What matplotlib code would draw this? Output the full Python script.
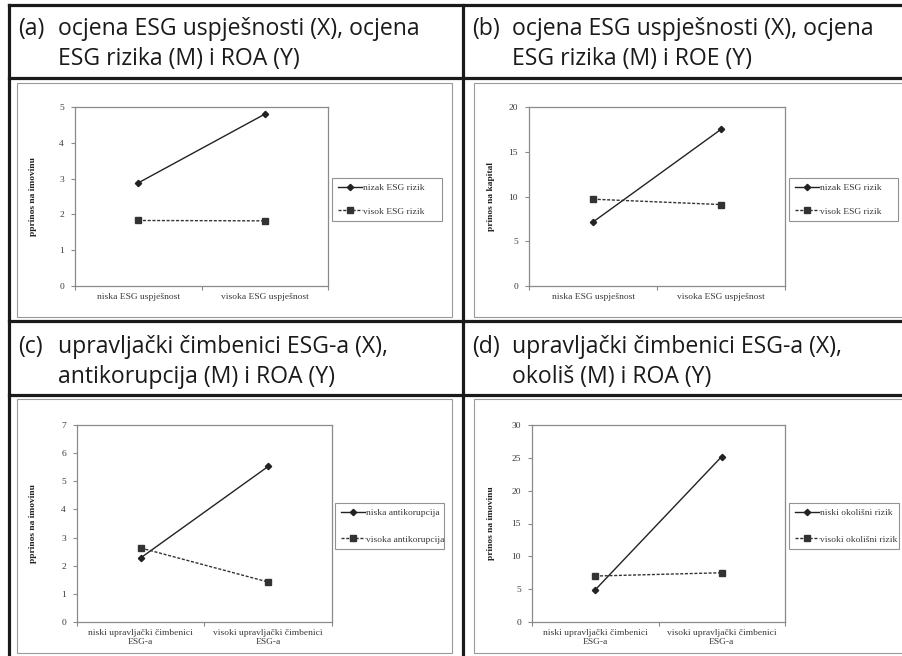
import matplotlib
matplotlib.use("Agg")
import matplotlib.pyplot as plt
from matplotlib.lines import Line2D
from matplotlib.patches import Rectangle

W, H = 903, 656

# Panel headers (two lines each)
header_a = ["ocjena ESG uspješnosti (X), ocjena", "ESG rizika (M) i ROA (Y)"]
header_b = ["ocjena ESG uspješnosti (X), ocjena", "ESG rizika (M) i ROE (Y)"]
header_c = ["upravljački čimbenici ESG-a (X),", "antikorupcija (M) i ROA (Y)"]
header_d = ["upravljački čimbenici ESG-a (X),", "okoliš (M) i ROA (Y)"]

# Category labels
cats_ab = ["niska ESG uspješnost", "visoka ESG uspješnost"]
cats_cd = ["niski upravljački čimbenici\nESG-a", "visoki upravljački čimbenici\nESG-a"]

# Series values
a_low = [2.88, 4.80]
a_high = [1.83, 1.82]
b_low = [7.15, 17.5]
b_high = [9.7, 9.1]
c_low = [2.28, 5.53]
c_high = [2.63, 1.42]
d_low = [4.9, 25.2]
d_high = [7.0, 7.5]

# Legend labels
leg_ab = ["nizak ESG rizik", "visok ESG rizik"]
leg_c = ["niska antikorupcija", "visoka antikorupcija"]
leg_d = ["niski okolišni rizik", "visoki okolišni rizik"]

# Y axis labels and ticks
ylab_a = "pprinos na imovinu"
ylab_b = "prinos na kapital"
ylab_c = "pprinos na imovinu"
ylab_d = "prinos na imovinu"
yticks_a = [0, 1, 2, 3, 4, 5]
yticks_b = [0, 5, 10, 15, 20]
yticks_c = [0, 1, 2, 3, 4, 5, 6, 7]
yticks_d = [0, 5, 10, 15, 20, 25, 30]

SERIF = "Liberation Serif"
SANS = "Open Sans"
TXT = "#3a3a3a"
GRID = "#8a8a8a"
HEAD_SIZE = 16.6

fig = plt.figure(figsize=(W / 100, H / 100), dpi=100)
fig.patch.set_facecolor("white")


def fx(x):
    return x / W


def fy(y):
    return 1 - y / H


def rect(x0, y0, x1, y1):
    return [fx(x0), fy(y1), (x1 - x0) / W, (y1 - y0) / H]


# Table grid lines
for y in (5, 78, 321, 395):
    fig.add_artist(Line2D([fx(9), fx(905)], [fy(y), fy(y)], color="#1a1a1a", lw=2.3))
for x in (9, 463):
    fig.add_artist(Line2D([fx(x), fx(x)], [fy(5), fy(660)], color="#1a1a1a", lw=2.3))


# Header texts
def header(tag, lines, x0, y0):
    kw = dict(family=SANS, fontsize=HEAD_SIZE, color="#1a1a1a", va="baseline")
    fig.text(fx(x0), fy(y0), tag, **kw)
    fig.text(fx(x0 + 40), fy(y0), lines[0], **kw)
    fig.text(fx(x0 + 40), fy(y0 + 30), lines[1], **kw)


header("(a)", header_a, 18, 35)
header("(b)", header_b, 472, 35)
header("(c)", header_c, 18, 353)
header("(d)", header_d, 472, 353)

# Chart frames
for (x0, y0, x1, y1) in [(17, 83, 452, 317), (474, 83, 906, 317),
                         (17, 399, 452, 653), (474, 399, 906, 653)]:
    fig.add_artist(Rectangle((fx(x0), fy(y1)), (x1 - x0) / W, (y1 - y0) / H,
                             transform=fig.transFigure, fill=False,
                             edgecolor="#9a9a9a", lw=0.8))


def panel(box, cats, low, high, labels, ylabel, yticks, legbox, lab_x, spacing):
    ax = fig.add_axes(rect(*box))
    x = list(range(len(cats)))
    ax.plot(x, low, color="#222222", lw=1.0, marker="D", markersize=3.2,
            label=labels[0])
    ax.plot(x, high, color="#333333", lw=1.0, ls=(0, (2.2, 1.2)), marker="s",
            markersize=5, label=labels[1])
    ax.set_xlim(-0.5, len(cats) - 0.5)
    ax.set_ylim(yticks[0], yticks[-1])
    ax.set_yticks(yticks)
    ax.set_yticklabels([str(t) for t in yticks], family=SERIF, fontsize=6.8, color=TXT)
    # tick marks between categories, labels centred on categories
    ax.set_xticks([i - 0.5 for i in range(len(cats) + 1)])
    ax.set_xticklabels([])
    ax.set_xticks(x, minor=True)
    ax.set_xticklabels(cats, minor=True, family=SERIF, fontsize=6.8, color=TXT,
                       linespacing=1.25)
    ax.tick_params(axis="x", which="minor", length=0, pad=5)
    ax.tick_params(axis="x", which="major", length=3, color=GRID, width=0.8)
    ax.tick_params(axis="y", length=3, color=GRID, width=0.8, pad=5)
    for s in ax.spines.values():
        s.set_color(GRID)
        s.set_linewidth(0.9)
    ax.set_ylabel(ylabel, family=SERIF, fontsize=6.8, fontweight="bold", color="#222222")
    ax.yaxis.set_label_coords(lab_x, 0.5)
    lx0, ly0, lx1, ly1 = legbox
    leg = ax.legend(loc="center", bbox_to_anchor=(fx(lx0), fy(ly1), (lx1 - lx0) / W, (ly1 - ly0) / H),
                    bbox_transform=fig.transFigure, mode="expand", borderaxespad=0,
                    prop={"family": SERIF, "size": 6.8}, frameon=True, fancybox=False,
                    edgecolor="#777777", handlelength=2.6, handletextpad=0.1,
                    labelspacing=spacing, borderpad=0.6)
    leg.get_frame().set_linewidth(0.8)
    for t in leg.get_texts():
        t.set_color(TXT)
    return ax


panel((75, 107, 328, 286), cats_ab, a_low, a_high, leg_ab, ylab_a, yticks_a,
      (332, 174, 442, 225), -0.15, 1.6)
panel((529, 107, 785, 286), cats_ab, b_low, b_high, leg_ab, ylab_b, yticks_b,
      (789, 174, 898, 225), -0.133, 1.6)
panel((77, 425, 332, 622), cats_cd, c_low, c_high, leg_c, ylab_c, yticks_c,
      (335, 497, 444, 555), -0.157, 1.9)
panel((532, 425, 785, 622), cats_cd, d_low, d_high, leg_d, ylab_d, yticks_d,
      (789, 497, 899, 555), -0.146, 1.9)

fig.savefig("out.png", dpi=100, facecolor="white")
